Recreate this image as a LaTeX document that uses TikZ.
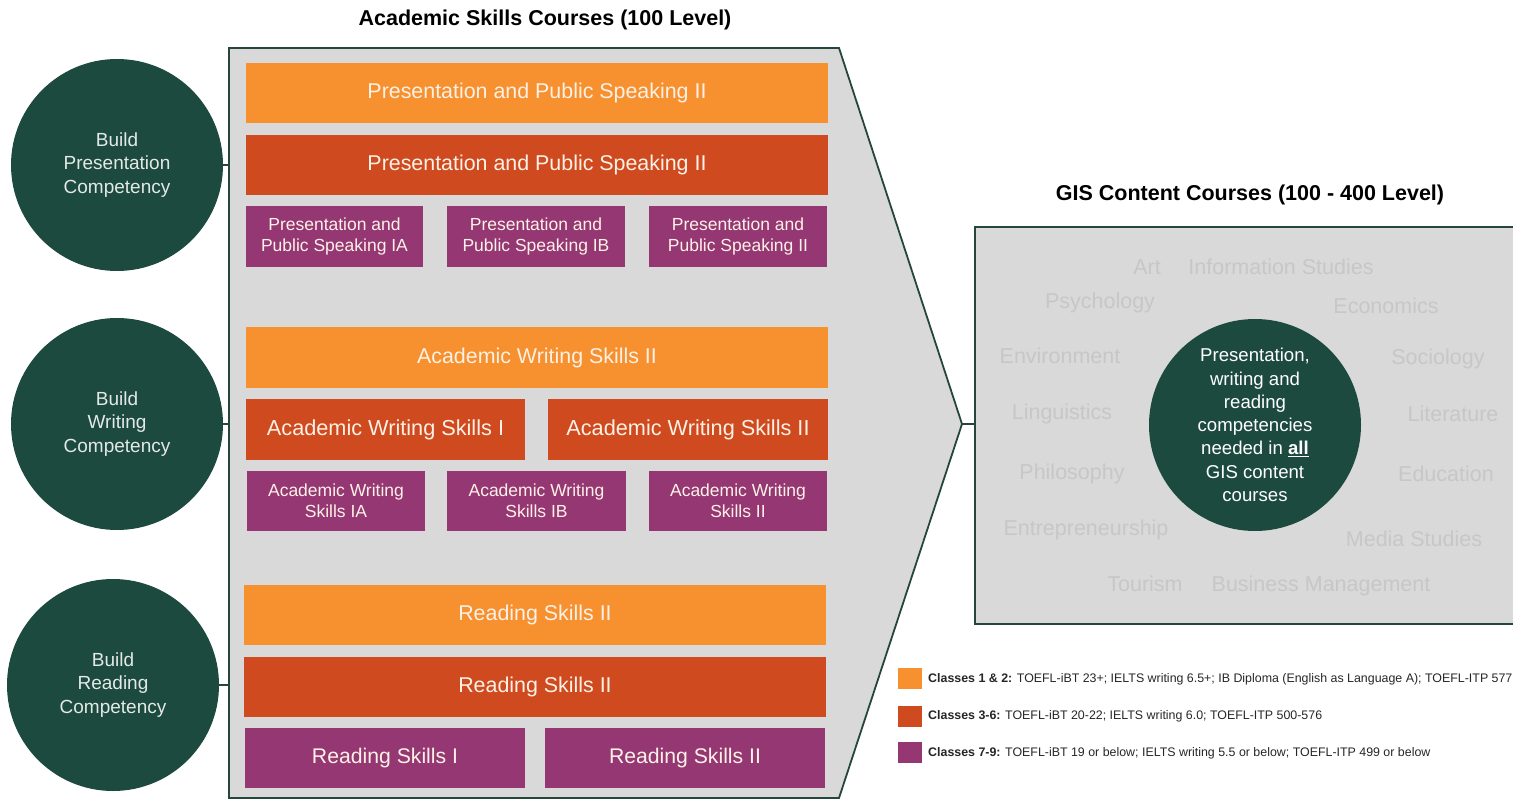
\documentclass[tikz,border=0pt]{standalone}
\usepackage{fontspec}
\setmainfont{Liberation Sans}
\usetikzlibrary{calc}

\definecolor{lvorange}{HTML}{F7902F}
\definecolor{lvred}{HTML}{CF4A1F}
\definecolor{lvpurple}{HTML}{953773}
\definecolor{gisgreen}{HTML}{1D4A3E}
\definecolor{edgegreen}{HTML}{26463C}
\definecolor{panelgray}{HTML}{D9D9D9}
\definecolor{subjectgray}{HTML}{C7C7C7}
\definecolor{boxtext}{HTML}{FDF1E6}
\definecolor{circletext}{HTML}{E3E9E6}

\tikzset{
  course/.style={inner sep=0pt, align=center, text=boxtext, font=\fontsize{21.4}{24}\selectfont},
  small/.style={course, font=\fontsize{17.5}{21}\selectfont},
  lvA/.style={course, fill=lvorange},
  lvB/.style={course, fill=lvred},
  lvC/.style={course, fill=lvpurple},
  comp/.style={circle, fill=gisgreen, minimum size=212pt, inner sep=0pt, align=center,
    text=circletext, font=\fontsize{19}{23.5}\selectfont},
  subject/.style={text=subjectgray, font=\fontsize{21.5}{24}\selectfont, inner sep=0pt},
  heading/.style={font=\fontsize{21.5}{24}\selectfont\bfseries, text=black, inner sep=0pt},
  link/.style={draw=edgegreen, line width=1.6pt},
  swatch/.style={minimum width=24pt, minimum height=21pt, inner sep=0pt},
  legendtext/.style={anchor=west, inner sep=0pt, text=black!85, font=\fontsize{12.4}{14}\selectfont}
}

\begin{document}
\begin{tikzpicture}[x=1pt,y=-1pt]
\useasboundingbox (0,0) rectangle (1513,800);
\clip (0,0) rectangle (1513,800);

% headings
\node[heading] (h1) at (545,20) {Academic Skills Courses (100 Level)};
\node[heading] (h2) at (1250,195) {GIS Content Courses (100 - 400 Level)};

% arrow-shaped panel holding the academic skills courses
\coordinate (tip) at (962,424);
\coordinate (pw) at (229,0);
\draw[fill=panelgray, draw=edgegreen, line width=1.8pt]
  (229,48) -- (839,48) -- (tip) -- (839,798) -- (229,798) -- cycle;

% presentation track
\node[lvA, minimum width=582pt, minimum height=60pt] (p1) at (537,93) {Presentation and Public Speaking II};
\node[lvB, minimum width=582pt, minimum height=60pt] (p2) at (537,165) {Presentation and Public Speaking II};
\node[lvC, small, minimum width=177pt, minimum height=61pt] (p3a) at (334.5,236.5) {Presentation and\\Public Speaking IA};
\node[lvC, small, minimum width=178pt, minimum height=61pt] (p3b) at (536,236.5) {Presentation and\\Public Speaking IB};
\node[lvC, small, minimum width=178pt, minimum height=61pt] (p3c) at (738,236.5) {Presentation and\\Public Speaking II};

% writing track
\node[lvA, minimum width=582pt, minimum height=61pt] (w1) at (537,357.5) {Academic Writing Skills II};
\node[lvB, font=\fontsize{21.7}{26}\selectfont, minimum width=279pt, minimum height=61pt] (w2a) at (385.5,429.5) {Academic Writing Skills I};
\node[lvB, font=\fontsize{21.7}{26}\selectfont, minimum width=280pt, minimum height=61pt] (w2b) at (688,429.5) {Academic Writing Skills II};
\node[lvC, small, minimum width=178pt, minimum height=60pt] (w3a) at (336,501) {Academic Writing\\Skills IA};
\node[lvC, small, minimum width=179pt, minimum height=60pt] (w3b) at (536.5,501) {Academic Writing\\Skills IB};
\node[lvC, small, minimum width=178pt, minimum height=60pt] (w3c) at (738,501) {Academic Writing\\Skills II};

% reading track
\node[lvA, minimum width=582pt, minimum height=60pt] (r1) at (535,615) {Reading Skills II};
\node[lvB, minimum width=582pt, minimum height=60pt] (r2) at (535,687) {Reading Skills II};
\node[lvC, font=\fontsize{21.2}{25}\selectfont, minimum width=280pt, minimum height=60pt] (r3a) at (385,758) {Reading Skills I};
\node[lvC, font=\fontsize{21.2}{25}\selectfont, minimum width=280pt, minimum height=60pt] (r3b) at (685,758) {Reading Skills II};

% competency circles
\node[comp] (cp) at (117,165) {Build\\Presentation\\Competency};
\node[comp] (cw) at (117,424) {Build\\Writing\\Competency};
\node[comp] (cr) at (113,685) {Build\\Reading\\Competency};
\draw[link] (cp.east) -- (cp.east -| pw);
\draw[link] (cw.east) -- (cw.east -| pw);
\draw[link] (cr.east) -- (cr.east -| pw);

% GIS content courses
\node[draw=edgegreen, line width=1.8pt, fill=panelgray, minimum width=580pt, minimum height=397pt,
  inner sep=0pt, anchor=north west] (gis) at (974,226) {};
\draw[link] (tip) -- (tip -| gis.west);

\node[subject] (s1) at (1147,267) {Art};
\node[subject] (s2) at (1281,267) {Information Studies};
\node[subject] (s3) at (1100,303) {Psychology};
\node[subject] (s4) at (1386,306) {Economics};
\node[subject] (s5) at (1060,356) {Environment};
\node[subject] (s6) at (1438,359) {Sociology};
\node[subject] (s7) at (1062,414) {Linguistics};
\node[subject] (s8) at (1453,414) {Literature};
\node[subject] (s9) at (1072,474) {Philosophy};
\node[subject] (s10) at (1446,474) {Education};
\node[subject] (s11) at (1086,530) {Entrepreneurship};
\node[subject] (s12) at (1414,539) {Media Studies};
\node[subject] (s13) at (1145,584) {Tourism};
\node[subject] (s14) at (1321,586) {Business Management};

\node[circle, fill=gisgreen, minimum size=212pt, inner sep=0pt, align=center, text=white,
  font=\fontsize{18.6}{23.3}\selectfont] (core) at (1255,425)
  {Presentation,\\writing and\\reading\\competencies\\needed in \underline{\textbf{all}}\\GIS content\\courses};

% legend
\node[swatch, fill=lvorange] (k1) at (910,678.5) {};
\node[swatch, fill=lvred] (k2) at (910,716) {};
\node[swatch, fill=lvpurple] (k3) at (910,752.5) {};
\node[legendtext] (t1) at (928,679) {\textbf{Classes 1 \& 2:} TOEFL-iBT 23+; IELTS writing 6.5+; IB Diploma (English as Language A); TOEFL-ITP 577};
\node[legendtext] (t2) at (928,716) {\textbf{Classes 3-6:} TOEFL-iBT 20-22; IELTS writing 6.0; TOEFL-ITP 500-576};
\node[legendtext] (t3) at (928,753) {\textbf{Classes 7-9:} TOEFL-iBT 19 or below; IELTS writing 5.5 or below; TOEFL-ITP 499 or below};
\end{tikzpicture}
\end{document}
